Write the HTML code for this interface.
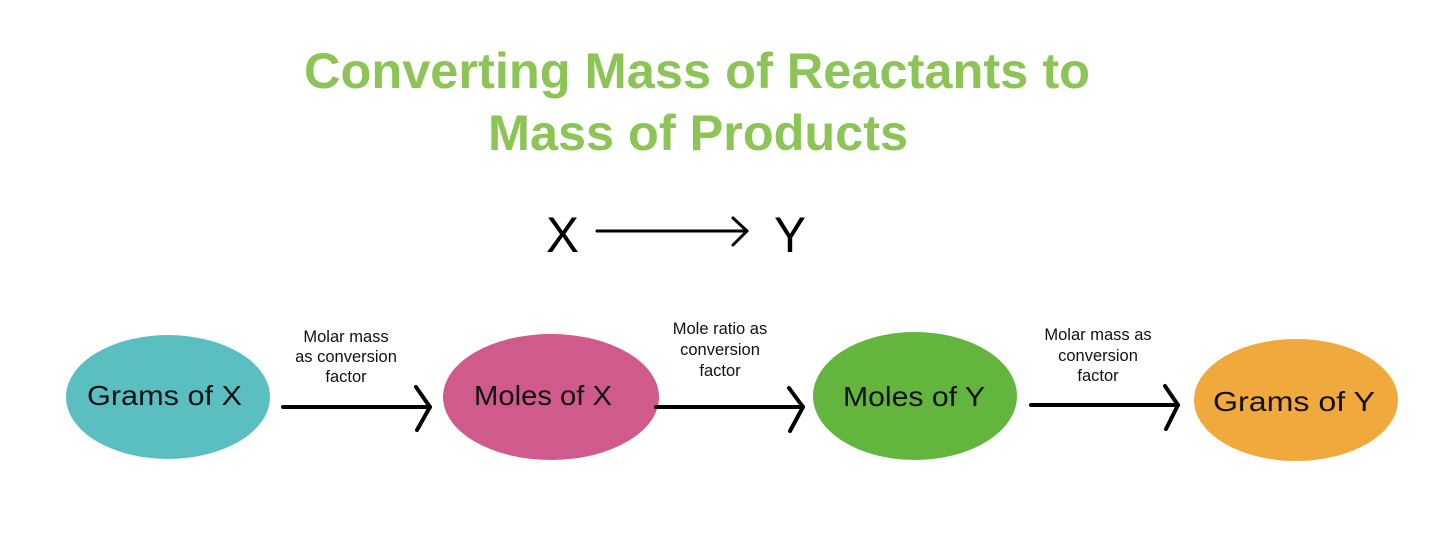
<!DOCTYPE html>
<html><head><meta charset="utf-8"><style>html,body{margin:0;padding:0;background:#fff;}svg{display:block}</style></head>
<body>
<svg width="1449" height="549" viewBox="0 0 1449 549" xmlns="http://www.w3.org/2000/svg" font-family="Liberation Sans, Arial, sans-serif">
<rect width="1449" height="549" fill="#fff"/>
<g fill="#8cc456" font-weight="bold" font-size="50" text-anchor="middle">
<text x="697" y="88" textLength="786" lengthAdjust="spacingAndGlyphs">Converting Mass of Reactants to</text>
<text x="698" y="150" textLength="420" lengthAdjust="spacingAndGlyphs">Mass of Products</text>
</g>
<g font-size="50" fill="#000">
<text x="546" y="252" textLength="33" lengthAdjust="spacingAndGlyphs">X</text>
<text x="774" y="252" textLength="32" lengthAdjust="spacingAndGlyphs">Y</text>
</g>
<g stroke="#000" stroke-width="3" fill="none" stroke-linecap="round" stroke-linejoin="round">
<line x1="597" y1="231" x2="747" y2="231"/><polyline points="733,218 747,231 733,245"/>
</g>
<ellipse cx="168" cy="397" rx="102" ry="62" fill="#5bbfc2"/>
<ellipse cx="551" cy="397" rx="108" ry="63" fill="#d05a8c"/>
<ellipse cx="915" cy="396" rx="102" ry="64" fill="#63b53d"/>
<ellipse cx="1296" cy="400" rx="102" ry="61" fill="#f0a93c"/>
<g font-size="28" fill="#111">
<text x="87" y="405" textLength="155" lengthAdjust="spacingAndGlyphs">Grams of X</text>
<text x="474" y="405" textLength="138" lengthAdjust="spacingAndGlyphs">Moles of X</text>
<text x="843" y="406" textLength="142" lengthAdjust="spacingAndGlyphs">Moles of Y</text>
<text x="1213" y="411" textLength="162" lengthAdjust="spacingAndGlyphs">Grams of Y</text>
</g>
<g stroke="#000" stroke-width="4" fill="none" stroke-linecap="round" stroke-linejoin="round">
<line x1="283" y1="407" x2="430" y2="407"/><polyline points="416,387 430,407 417,430"/>
<line x1="656" y1="407" x2="803" y2="407"/><polyline points="789,388 803,407 790,431"/>
<line x1="1031" y1="405" x2="1178" y2="405"/><polyline points="1165,386 1178,405 1166,429"/>
</g>
<g font-size="16.5" fill="#111" text-anchor="middle">
<text x="346" y="342">Molar mass</text>
<text x="346" y="362">as conversion</text>
<text x="346" y="382">factor</text>
<text x="720" y="334">Mole ratio as</text>
<text x="720" y="355">conversion</text>
<text x="720" y="376">factor</text>
<text x="1098" y="340">Molar mass as</text>
<text x="1098" y="361">conversion</text>
<text x="1098" y="381">factor</text>
</g>
</svg>
</body></html>
